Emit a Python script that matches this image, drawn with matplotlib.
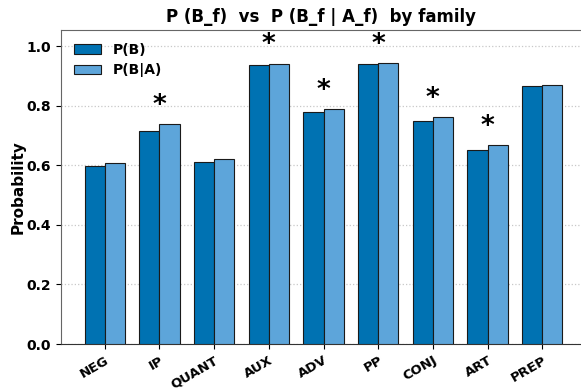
import numpy as np
import matplotlib
matplotlib.use('Agg')
from matplotlib import pyplot as plt

families = ['NEG', 'IP', 'QUANT', 'AUX', 'ADV', 'PP', 'CONJ', 'ART', 'PREP']
p_b = [0.598, 0.715, 0.610, 0.937, 0.780, 0.939, 0.749, 0.650, 0.865]
p_b_given_a = [0.607, 0.737, 0.620, 0.940, 0.788, 0.942, 0.761, 0.668, 0.868]
significant = [False, True, False, True, True, True, True, True, False]

fig = plt.figure(figsize=(5.81, 3.91), dpi=100)
ax = fig.add_axes([61/581, 47/391, (580-61)/581, (344-30)/391])

x = np.arange(len(families))
w = 0.37
ax.bar(x - w/2, p_b, w, color='#0072B2', edgecolor='#1a1a1a', linewidth=0.8, label='P(B)', zorder=3)
ax.bar(x + w/2, p_b_given_a, w, color='#5DA5DA', edgecolor='#1a1a1a', linewidth=0.8, label='P(B|A)', zorder=3)

# stars over the significant families
for i, sig in enumerate(significant):
    if sig:
        ax.text(x[i], max(p_b[i], p_b_given_a[i]) + 0.062, '*', ha='center', va='center',
                fontsize=19, fontweight='bold')

ax.set_xlim(-0.8, 8.69)
ax.set_ylim(0, 1.054)
ax.set_xticks(x)
ax.set_xticklabels(families, rotation=30, ha='right', fontweight='bold', fontsize=9.5,
                   rotation_mode='anchor')
ax.set_yticks([0.0, 0.2, 0.4, 0.6, 0.8, 1.0])
ax.set_yticklabels(['0.0', '0.2', '0.4', '0.6', '0.8', '1.0'], fontweight='bold', fontsize=10)
ax.set_ylabel('Probability', fontweight='bold', fontsize=11, labelpad=1)
ax.set_title('P (B_f)  vs  P (B_f | A_f)  by family', fontweight='bold', fontsize=12)
ax.yaxis.grid(True, linestyle=':', color='#c8c8c8', linewidth=0.9, zorder=0)
ax.spines['right'].set_visible(False)
for s in ['top', 'left']:
    ax.spines[s].set_color('#666666')
ax.spines['bottom'].set_color('#333333')

ax.legend(loc='upper left', frameon=False, prop={'weight': 'bold', 'size': 10})

fig.savefig('out.png', dpi=100)
